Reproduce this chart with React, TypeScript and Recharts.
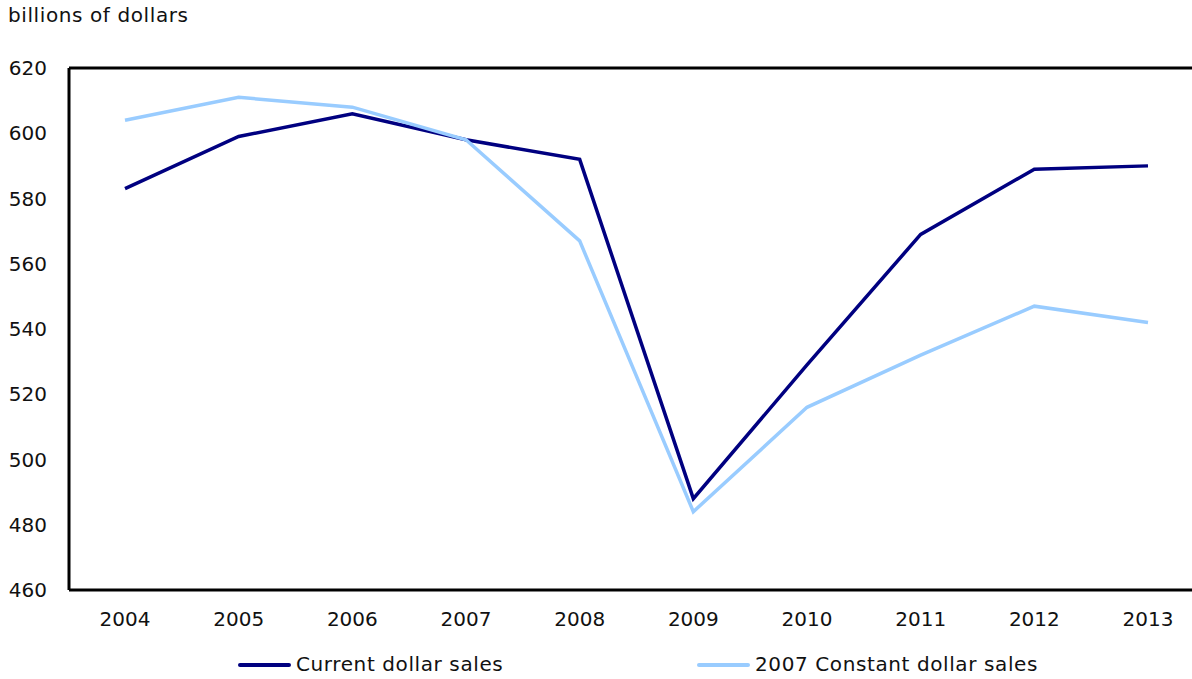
import React from 'react';
import { LineChart, Line, XAxis, YAxis, ReferenceLine, Legend } from 'recharts';

const years = ['2004', '2005', '2006', '2007', '2008', '2009', '2010', '2011', '2012', '2013'];
const currentSales = [583, 599, 606, 598, 592, 488, 529, 569, 589, 590];
const constantSales = [604, 611, 608, 598, 567, 484, 516, 532, 547, 542];
const yTicks = [460, 480, 500, 520, 540, 560, 580, 600, 620];

const data = years.map((y, i) => ({ year: y, current: currentSales[i], constant: constantSales[i] }));

const FONT = 'Verdana, "DejaVu Sans", sans-serif';

const LegendContent = () => (
  <div style={{ position: 'relative', height: 36, fontFamily: FONT, fontSize: 20, letterSpacing: 0.6, color: '#111' }}>
    <div style={{ position: 'absolute', left: 238, top: 20, width: 53, height: 4, background: '#000080', borderRadius: 2 }} />
    <span style={{ position: 'absolute', left: 296, top: 8, whiteSpace: 'nowrap', lineHeight: '26px' }}>Current dollar sales</span>
    <div style={{ position: 'absolute', left: 697, top: 20, width: 53, height: 4, background: '#99CCFF', borderRadius: 2 }} />
    <span style={{ position: 'absolute', left: 755, top: 8, whiteSpace: 'nowrap', lineHeight: '26px' }}>2007 Constant dollar sales</span>
  </div>
);

export default function App() {
  return (
    <div style={{ position: 'absolute', left: 0, top: 0, width: 1192, height: 679, overflow: 'hidden', background: '#fff' }}>
      <div style={{ position: 'absolute', left: 8, top: 2, fontFamily: FONT, fontSize: 20, letterSpacing: 0.6, color: '#111', lineHeight: '26px' }}>billions of dollars</div>
      <LineChart width={1204} height={679} data={data} margin={{ top: 68, right: 0, bottom: 0, left: 0 }}>
        <XAxis
          dataKey="year"
          axisLine={{ stroke: '#000', strokeWidth: 3 }}
          tickLine={false}
          height={53}
          padding={{ left: 56, right: 56 }}
          tick={{ fill: '#111', fontSize: 20, fontFamily: FONT }}
          tickMargin={16}
        />
        <YAxis
          domain={[460, 620]}
          ticks={yTicks}
          interval={0}
          width={69}
          axisLine={{ stroke: '#000', strokeWidth: 3 }}
          tickLine={false}
          tick={{ fill: '#111', fontSize: 20, fontFamily: FONT }}
          tickMargin={16}
        />
        <ReferenceLine y={620} stroke="#000" strokeWidth={3} />
        <Legend verticalAlign="bottom" height={36} content={<LegendContent />} wrapperStyle={{ left: 0, width: 1192 }} />
        <Line type="linear" dataKey="current" stroke="#000080" strokeWidth={3.5} dot={false} isAnimationActive={false} />
        <Line type="linear" dataKey="constant" stroke="#99CCFF" strokeWidth={3.5} dot={false} isAnimationActive={false} />
      </LineChart>
    </div>
  );
}
